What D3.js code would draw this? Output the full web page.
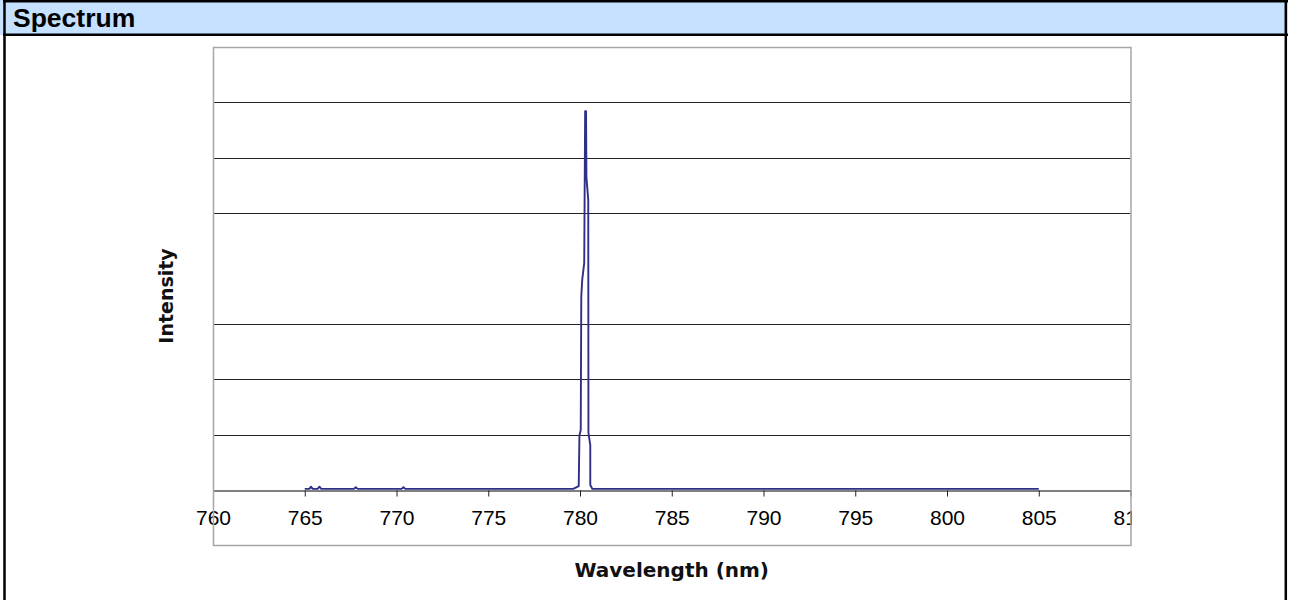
<!DOCTYPE html>
<html>
<head>
<meta charset="utf-8">
<style>
body { margin: 0; background: #fff; }
.title { font: bold 26.5px "Liberation Sans", Arial, sans-serif; fill: #000; }
.tickLabel { font: 21px "Liberation Sans", Arial, sans-serif; fill: #000; }
.axisTitle { font: bold 20px "DejaVu Sans", sans-serif; fill: #111; }
.grid { stroke: #222; stroke-width: 1px; }
.spectrum { fill: none; stroke: #2e2f86; stroke-width: 1.9px; stroke-linejoin: round; }
</style>
<script src="https://cdn.jsdelivr.net/npm/d3@7"></script>
</head>
<body>
<div id="THE_CONTAINER"></div>
<script>

// (intensity has no labels, scale is 0..8 grid units)
const wavelengths = [765.0, 765.25, 765.34, 765.43, 765.7, 765.8, 765.9, 767.68, 767.78, 767.88,
    770.28, 770.38, 770.48, 779.4, 779.63, 779.93, 779.97, 780.04, 780.07, 780.12,
    780.23, 780.28, 780.33, 780.35, 780.45, 780.46, 780.56, 780.56, 780.67, 780.8, 805.0];
const intensity = [0.02, 0.02, 0.06, 0.02, 0.02, 0.06, 0.02, 0.02, 0.05, 0.02,
    0.02, 0.05, 0.02, 0.02, 0.02, 0.07, 0.99, 1.08, 3.49, 3.79,
    4.10, 6.84, 6.84, 5.65, 5.24, 1.03, 0.81, 0.09, 0.02, 0.02, 0.02];
const xTicks = [760, 765, 770, 775, 780, 785, 790, 795, 800, 805, 810];
const gridValues = [1, 2, 3, 5, 6, 7]; // the one at 4 is not drawn in the original

const W = 1290, H = 600;
const svg = d3.select("#THE_CONTAINER").append("svg")
    .attr("width", W).attr("height", H);

// panel + title bar
svg.append("rect").attr("x", 0).attr("y", 0).attr("width", 1288).attr("height", 35)
    .attr("fill", "#c6e0ff");
svg.append("line").attr("x1", 3).attr("x2", 1288).attr("y1", 1.2).attr("y2", 1.2)
    .attr("stroke", "#000").attr("stroke-width", 2.5);
svg.append("line").attr("x1", 3).attr("x2", 1288).attr("y1", 34.8).attr("y2", 34.8)
    .attr("stroke", "#000").attr("stroke-width", 2.5);
svg.append("line").attr("x1", 4.5).attr("x2", 4.5).attr("y1", 0).attr("y2", H)
    .attr("stroke", "#000").attr("stroke-width", 2.5);
svg.append("line").attr("x1", 1285.8).attr("x2", 1285.8).attr("y1", 0).attr("y2", H)
    .attr("stroke", "#000").attr("stroke-width", 2.5);
svg.append("text").attr("class", "title").attr("x", 13).attr("y", 27).text("Spectrum");

// plot
const plotL = 213, plotR = 1130.5, plotT = 47, plotB = 490, frameB = 545;
const x = d3.scaleLinear().domain([760, 810]).range([plotL, plotR]);
const y = d3.scaleLinear().domain([0, 8]).range([plotB, plotT]);

svg.selectAll(".grid").data(gridValues).enter().append("line")
    .attr("class", "grid")
    .attr("x1", plotL).attr("x2", plotR)
    .attr("y1", d => Math.round(y(d)) + 0.5).attr("y2", d => Math.round(y(d)) + 0.5);

// x axis
const xAxis = svg.append("g").attr("transform", `translate(0,${plotB + 0.5})`)
    .call(d3.axisBottom(x).tickValues(xTicks).tickSize(6).tickSizeOuter(0).tickFormat(d3.format("d")));
xAxis.select(".domain").attr("stroke", "#000");
xAxis.selectAll(".tick line").attr("stroke", "#222");
xAxis.selectAll(".tick text").attr("class", "tickLabel").attr("y", 20).attr("dy", "0.71em");
// the last label is cut by the plot frame
svg.append("clipPath").attr("id", "lastLabelClip").append("rect")
    .attr("x", -100).attr("y", -10).attr("width", 101).attr("height", 60);
xAxis.selectAll(".tick").filter(d => d === 810).select("text")
    .attr("clip-path", "url(#lastLabelClip)");

// y axis line
svg.append("line").attr("x1", plotL + 0.5).attr("x2", plotL + 0.5).attr("y1", plotT).attr("y2", plotB + 6)
    .attr("stroke", "#000");

// frame
svg.append("rect").attr("x", plotL + 0.5).attr("y", plotT + 0.5)
    .attr("width", plotR - plotL).attr("height", frameB - plotT)
    .attr("fill", "none").attr("stroke", "#a6a6a6").attr("stroke-width", 1.5);

// spectrum line
const pts = wavelengths.map((w, i) => [w, intensity[i]]);
svg.append("path").datum(pts).attr("class", "spectrum")
    .attr("d", d3.line().x(d => x(d[0])).y(d => y(d[1])));

// axis titles
svg.append("text").attr("class", "axisTitle")
    .attr("text-anchor", "middle")
    .attr("x", (plotL + plotR) / 2).attr("y", 577)
    .text("Wavelength (nm)");
svg.append("text").attr("class", "axisTitle")
    .attr("text-anchor", "middle")
    .attr("transform", `translate(172.5,${(plotT + frameB) / 2}) rotate(-90)`)
    .style("font-size", "19px")
    .text("Intensity");

</script>
</body>
</html>
